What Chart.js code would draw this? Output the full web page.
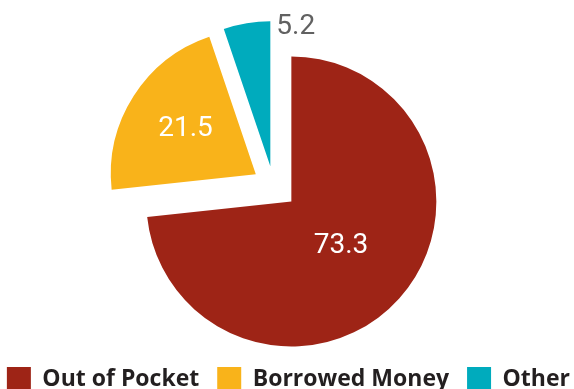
<!DOCTYPE html>
<html>
<head>
<meta charset="utf-8">
<script src="https://cdn.jsdelivr.net/npm/chart.js@4"></script>
<style>
  html, body { margin: 0; padding: 0; background: #fff; overflow: hidden; }
  #wrap { position: relative; width: 629px; height: 401px; margin-left: -41px; }
</style>
</head>
<body>
<div id="wrap"><canvas id="fundingChart"></canvas></div>
<script>
const categories = ["Out of Pocket", "Borrowed Money", "Other"];
const shares = [73.3, 21.5, 5.2];
const sliceColors = ["#9e2416", "#f9b31a", "#00abbd"];

// how far each slice is pulled out from the middle, in pixels
const explode = [24, 21, 19.5];

const explodePlugin = {
  id: "explode",
  afterDatasetUpdate(chart, args) {
    args.meta.data.forEach((arc, i) => {
      const mid = (arc.startAngle + arc.endAngle) / 2;
      arc.x += Math.cos(mid) * explode[i];
      arc.y += Math.sin(mid) * explode[i];
    });
  }
};

const valueLabels = {
  id: "valueLabels",
  afterDatasetsDraw(chart) {
    const ctx = chart.ctx;
    const arcs = chart.getDatasetMeta(0).data;
    ctx.save();
    ctx.font = "28px Roboto";
    ctx.textBaseline = "middle";
    arcs.forEach((arc, i) => {
      const text = shares[i].toFixed(1);
      const r = arc.outerRadius;
      if (i === 2) {
        // small slice: label sits outside, right of its top edge
        ctx.fillStyle = "#616161";
        ctx.textAlign = "left";
        ctx.fillText(text, arc.x + 6, arc.y - r * 0.96);
      } else {
        const mid = (arc.startAngle + arc.endAngle) / 2;
        const f = i === 0 ? 0.46 : 0.575;
        ctx.fillStyle = "#ffffff";
        ctx.textAlign = "center";
        ctx.fillText(text, arc.x + Math.cos(mid) * r * f, arc.y + Math.sin(mid) * r * f);
      }
    });
    ctx.restore();
  }
};

new Chart(document.getElementById("fundingChart"), {
  type: "pie",
  data: {
    labels: categories,
    datasets: [
      {
        data: shares,
        backgroundColor: sliceColors,
        borderWidth: 0,
        clip: false
      }
    ]
  },
  options: {
    responsive: true,
    maintainAspectRatio: false,
    animation: false,
    radius: 145,
    layout: {
      padding: { left: 0, right: 0, top: 22, bottom: 0 }
    },
    plugins: {
      tooltip: { enabled: false },
      legend: {
        position: "bottom",
        align: "end",
        labels: {
          boxWidth: 24,
          boxHeight: 24,
          padding: 18,
          color: "#231f20",
          font: { family: "Open Sans", size: 23, weight: "bold" }
        }
      }
    }
  },
  plugins: [explodePlugin, valueLabels]
});
</script>
</body>
</html>
